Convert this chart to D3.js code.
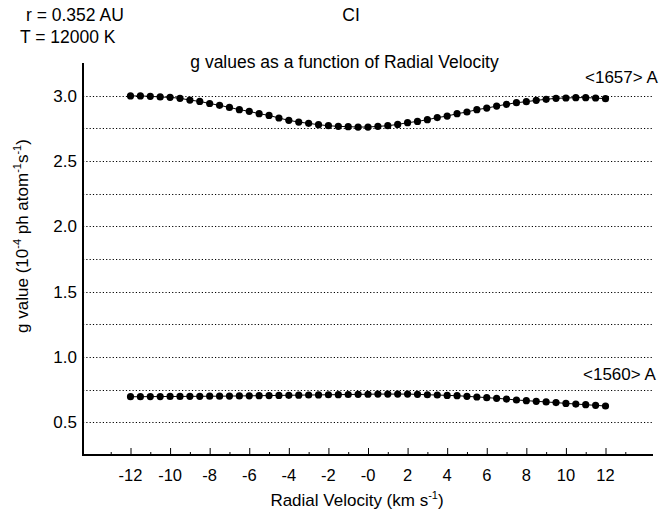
<!DOCTYPE html>
<html>
<head>
<meta charset="utf-8">
<script src="https://cdn.jsdelivr.net/npm/d3@7"></script>
<style>
  body { margin: 0; background: #fff; }
  text { font-family: "Liberation Sans", Arial, Helvetica, sans-serif; fill: #000; }
</style>
</head>
<body>
<div id="chart"></div>
<script>
// radial velocity (km/s), step 0.5
const velocity = d3.range(-12, 12.001, 0.5);

// g values for <1657> A
const g1657 = [
  2.998, 2.998, 2.995, 2.990, 2.987, 2.980, 2.966, 2.956, 2.940, 2.926,
  2.910, 2.893, 2.880, 2.862, 2.849, 2.829, 2.811, 2.798, 2.788, 2.778,
  2.770, 2.765, 2.763, 2.760, 2.760, 2.765, 2.770, 2.780, 2.793, 2.803,
  2.816, 2.832, 2.844, 2.862, 2.875, 2.893, 2.905, 2.920, 2.934, 2.946,
  2.954, 2.964, 2.972, 2.980, 2.982, 2.985, 2.985, 2.982, 2.977
];

// g values for <1560> A
const g1560 = [
  0.696, 0.696, 0.697, 0.697, 0.698, 0.698, 0.699, 0.699, 0.700, 0.700,
  0.701, 0.702, 0.703, 0.704, 0.705, 0.706, 0.707, 0.708, 0.709, 0.710,
  0.711, 0.712, 0.713, 0.714, 0.715, 0.716, 0.716, 0.716, 0.716, 0.714,
  0.711, 0.709, 0.706, 0.704, 0.699, 0.694, 0.689, 0.684, 0.678, 0.671,
  0.666, 0.661, 0.656, 0.651, 0.645, 0.640, 0.635, 0.630, 0.625
];

const xTickValues = d3.range(-12, 13, 2);
const xMinorTicks = d3.range(-13, 14, 1).filter(d => d % 2 !== 0);
const yTickValues = [0.5, 1.0, 1.5, 2.0, 2.5, 3.0];
const yGridValues = d3.range(0.5, 3.001, 0.25);

//========================================================================
const width = 663, height = 514;
const plot = { left: 83, right: 653, top: 63, bottom: 455 };

const svg = d3.select("#chart").append("svg")
  .attr("width", width)
  .attr("height", height);

const xScale = d3.scaleLinear().domain([-14.4, 14.4]).range([plot.left, plot.right]);
const yScale = d3.scaleLinear().domain([0.25, 3.25]).range([plot.bottom, plot.top]);
const crisp = v => Math.round(v) + 0.5; // snap 1px lines to pixel grid

//========================== GRID ========================================
svg.append("g")
  .selectAll("line")
  .data(yGridValues)
  .enter()
  .append("line")
  .attr("x1", plot.left)
  .attr("x2", plot.right)
  .attr("y1", d => crisp(yScale(d)))
  .attr("y2", d => crisp(yScale(d)))
  .attr("stroke", "#000")
  .attr("stroke-width", 1)
  .attr("stroke-dasharray", "1.2,2.1");

//========================== AXES ========================================
// x axis, ticks point up into the plot
const xAxis = svg.append("g")
  .attr("transform", `translate(0,${plot.bottom})`)
  .call(d3.axisTop(xScale).tickValues(xTickValues).tickSize(7).tickFormat(""));
xAxis.select(".domain").remove();

const xMinor = svg.append("g")
  .attr("transform", `translate(0,${plot.bottom})`)
  .call(d3.axisTop(xScale).tickValues(xMinorTicks).tickSize(3).tickFormat(""));
xMinor.select(".domain").remove();

svg.append("g")
  .selectAll("text")
  .data(xTickValues)
  .enter()
  .append("text")
  .attr("x", d => xScale(d))
  .attr("y", 481)
  .attr("text-anchor", "middle")
  .style("font-size", "16.5px")
  .text(d => d === 0 ? "-0" : d);

// y axis labels
svg.append("g")
  .selectAll("text")
  .data(yTickValues)
  .enter()
  .append("text")
  .attr("x", 77)
  .attr("y", d => yScale(d) + 6)
  .attr("text-anchor", "end")
  .style("font-size", "17px")
  .text(d => d.toFixed(1));

svg.append("line")
  .attr("x1", plot.left).attr("x2", plot.right)
  .attr("y1", plot.bottom).attr("y2", plot.bottom)
  .attr("stroke", "#000").attr("stroke-width", 2);
svg.append("line")
  .attr("x1", plot.left).attr("x2", plot.left)
  .attr("y1", plot.top).attr("y2", plot.bottom + 1)
  .attr("stroke", "#000").attr("stroke-width", 2);

//========================== SERIES ======================================
const line = d3.line().x(d => xScale(d[0])).y(d => yScale(d[1]));

[g1657, g1560].forEach(values => {
  const pts = velocity.map((v, i) => [v, values[i]]);
  svg.append("path")
    .datum(pts)
    .attr("d", line)
    .attr("fill", "none")
    .attr("stroke", "#000")
    .attr("stroke-width", 1);
  svg.append("g")
    .selectAll("circle")
    .data(pts)
    .enter()
    .append("circle")
    .attr("cx", d => xScale(d[0]))
    .attr("cy", d => yScale(d[1]))
    .attr("r", 3.6)
    .attr("fill", "#000");
});

//========================== LABELS ======================================
svg.append("text").attr("x", 585).attr("y", 83).style("font-size", "17px").text("<1657> A");
svg.append("text").attr("x", 583).attr("y", 380).style("font-size", "17px").text("<1560> A");

svg.append("text").attr("x", 26).attr("y", 21).style("font-size", "17.5px").text("r = 0.352 AU");
svg.append("text").attr("x", 20).attr("y", 43).style("font-size", "17.5px").text("T = 12000 K");
svg.append("text").attr("x", 351).attr("y", 21).attr("text-anchor", "middle").style("font-size", "17.5px").text("CI");
svg.append("text").attr("x", 344.5).attr("y", 68).attr("text-anchor", "middle").style("font-size", "17.5px")
  .text("g values as a function of Radial Velocity");

// x axis title with superscript
const xt = svg.append("text").attr("x", 357).attr("y", 506).attr("text-anchor", "middle").style("font-size", "17px");
xt.append("tspan").text("Radial Velocity (km  s");
xt.append("tspan").attr("dy", -7).style("font-size", "11px").text("-1");
xt.append("tspan").attr("dy", 7).text(")");

// y axis title with superscripts
const yt = svg.append("text")
  .attr("transform", "translate(28,236) rotate(-90)")
  .attr("text-anchor", "middle")
  .style("font-size", "17px");
yt.append("tspan").text("g value (10");
yt.append("tspan").attr("dy", -7).style("font-size", "11px").text("-4");
yt.append("tspan").attr("dy", 7).text(" ph atom");
yt.append("tspan").attr("dy", -7).style("font-size", "11px").text("-1");
yt.append("tspan").attr("dy", 7).text("s");
yt.append("tspan").attr("dy", -7).style("font-size", "11px").text("-1");
yt.append("tspan").attr("dy", 7).text(")");
</script>
</body>
</html>
